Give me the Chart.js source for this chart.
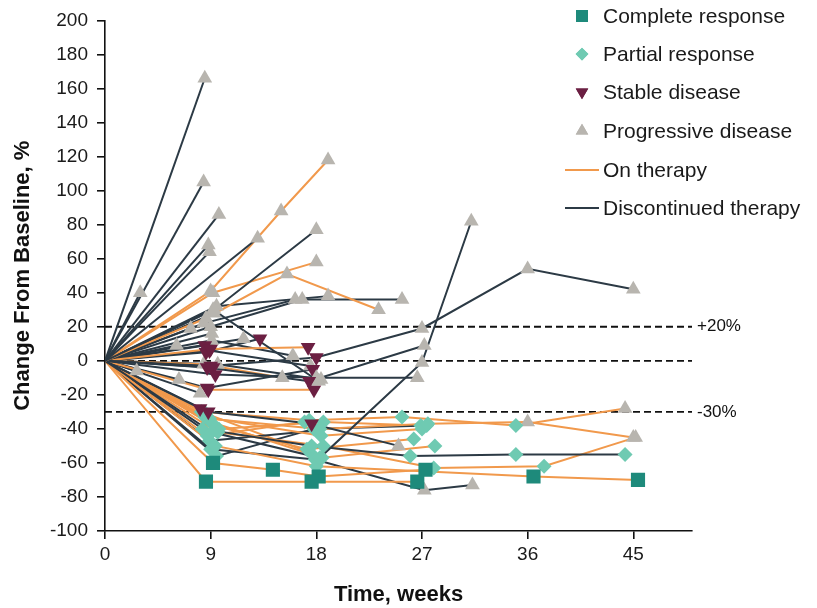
<!DOCTYPE html>
<html lang="en">
<head>
  <meta charset="UTF-8">
  <title>Change From Baseline Over Time</title>
  <script src="https://cdn.jsdelivr.net/npm/chart.js"></script>
  <style>
    body {
      margin: 0;
      background: #fff;
    }

    #wrap {
      width: 817px;
      height: 608px;
    }
  </style>
</head>
<body>

<div id="wrap">
  <canvas id="spider" width="817" height="608"></canvas>
</div>

<script>
  // Per-patient assessments: weeks, % change from baseline, response at each visit
  const patientWeeks = [
    [0, 8.5], [0, 3], [0, 8.4], [0, 9.7], [0, 8.8], [0, 8.9], [0, 13],
    [0, 9.3, 18], [0, 9, 15, 19], [0, 9.2, 18], [0, 8.6, 15.5, 23.3], [0, 9, 16.8, 25.3],
    [0, 8.4, 16.2], [0, 9.5, 19], [0, 9.2, 18.2], [0, 9, 18, 27, 36, 45], [0, 8.7, 17.4, 27.2],
    [0, 9.1, 18.3, 27, 31.2], [0, 9.4, 18, 26.6], [0, 8.8, 17.6, 25], [0, 9, 17.3], [0, 8.8, 17.8],
    [0, 8.6, 13.2], [0, 8.5], [0, 9.2], [0, 8.1], [0, 8.7, 17.7], [0, 7.3], [0, 6.1],
    [0, 2.7], [0, 6.3], [0, 8.1], [0, 9.1, 16], [0, 8.4, 15.1], [0, 11.8], [0, 9.1],
    [0, 9.3], [0, 8.9, 17.5], [0, 9.6, 18.4],
    [0, 8.6, 17.6, 26.6], [0, 9.2, 14.3, 18.2, 27.3], [0, 9.4, 18, 36.5, 45.4], [0, 9, 17.9, 27.2, 31.3],
    [0, 8.3, 17.6, 26, 35, 44.3], [0, 8.2, 17.4, 25.3, 35, 44.3], [0, 8.9, 18.3, 27.5, 36, 45],
    [0, 9.6, 18.6, 28, 37.4, 45.2], [0, 9.3, 17.2, 26.3], [0, 8.5, 18.4, 27], [0, 9, 18.5, 28.1],
    [0, 8.7, 17], [0, 8.9, 18.1], [0, 9.5, 17.8, 27.4], [0, 8.6, 17.5], [0, 9.7, 18.6, 26.9]
  ];

  const patientChange = [
    [0, 166], [0, 40], [0, 105], [0, 86], [0, 68], [0, 64], [0, 72],
    [0, 30, 77], [0, 41, 88, 118], [0, 40, 58], [0, 25, 51, 30], [0, 20, 36, 36],
    [0, 22, 36], [0, 32, 38], [0, 30, -12], [0, -3, 2, 19, 54, 42], [0, -4, -12, 9],
    [0, -42, -57, -1, 82], [0, -8, -10, -10], [0, -30, -37, -50], [0, 7, 8], [0, -17, -17],
    [0, 5, 13], [0, 9], [0, -4], [0, -28], [0, -16, -5], [0, 19], [0, 9],
    [0, -6], [0, -11], [0, -19], [0, 12, 3], [0, -2, -10], [0, 13], [0, 16],
    [0, 28], [0, 6, -3], [0, -2, -11],
    [0, -71, -71, -71], [0, -60, -64, -68, -64], [0, -50, -62, -68, -70], [0, -52, -58, -76, -73],
    [0, -40, -50, -56, -55, -55], [0, -30, -35, -33, -38, -28], [0, -34, -40, -37, -36, -45],
    [0, -42, -50, -63, -62, -45], [0, -38, -52, -46], [0, -33, -44, -40], [0, -36, -57, -50],
    [0, -44, -36], [0, -47, -41], [0, -56, -40, -38], [0, -31, -54], [0, -40, -36, -38]
  ];

  const patientResponse = [
    [null, 'PD'], [null, 'PD'], [null, 'PD'], [null, 'PD'], [null, 'PD'], [null, 'PD'], [null, 'PD'],
    [null, 'PD', 'PD'], [null, 'PD', 'PD', 'PD'], [null, 'PD', 'PD'], [null, 'PD', 'PD', 'PD'], [null, 'PD', 'PD', 'PD'],
    [null, 'PD', 'PD'], [null, 'PD', 'PD'], [null, 'PD', 'PD'], [null, 'SD', 'SD', 'PD', 'PD', 'PD'], [null, 'SD', 'SD', 'PD'],
    [null, 'PR', 'PR', 'PD', 'PD'], [null, 'SD', 'PD', 'PD'], [null, 'SD', 'SD', 'PD'], [null, 'SD', 'SD'], [null, 'SD', 'SD'],
    [null, 'SD', 'SD'], [null, 'SD'], [null, 'SD'], [null, 'SD'], [null, 'SD', 'SD'], [null, 'PD'], [null, 'PD'],
    [null, 'PD'], [null, 'PD'], [null, 'PD'], [null, 'PD', 'PD'], [null, 'PD', 'PD'], [null, 'PD'], [null, 'PD'],
    [null, 'PD'], [null, 'SD', 'PD'], [null, 'PD', 'PD'],
    [null, 'CR', 'CR', 'CR'], [null, 'CR', 'CR', 'CR', 'CR'], [null, 'PR', 'PR', 'CR', 'CR'], [null, 'PR', 'PR', 'PD', 'PD'],
    [null, 'PR', 'PR', 'PR', 'PR', 'PR'], [null, 'PR', 'PR', 'PR', 'PR', 'PD'], [null, 'PR', 'PR', 'PR', 'PD', 'PD'],
    [null, 'PR', 'PR', 'PR', 'PR', 'PD'], [null, 'PR', 'PR', 'PR'], [null, 'PR', 'PR', 'PR'], [null, 'PR', 'PR', 'PR'],
    [null, 'PR', 'PR'], [null, 'PR', 'PR'], [null, 'PR', 'PR', 'PR'], [null, 'PR', 'PR'], [null, 'PR', 'PR', 'PR']
  ];

  // true = still on therapy (orange), false = discontinued (dark)
  const patientOnTherapy = [
    false, false, false, false, false, false, false,
    false, true, true, true, false,
    false, false, false, false, false,
    false, false, false, true, true,
    false, false, false, false, false, false, false,
    false, false, false, false, true, false, false,
    false, false, false,
    true, true, true, false,
    false, true, true,
    true, true, true, true,
    true, false, false, true, true
  ];

  const xTicks = [0, 9, 18, 27, 36, 45];
  const refLines = [20, 0, -30];
  const refLabels = ['+20%', '', '-30%'];
  const legendMarkers = ['CR', 'PR', 'SD', 'PD'];
  const legendMarkerLabels = ['Complete response', 'Partial response', 'Stable disease', 'Progressive disease'];
  const legendLineLabels = ['On therapy', 'Discontinued therapy'];

  const FONT = '"Liberation Sans", Arial, sans-serif';
  const ORANGE = '#f1994c';
  const DARK = '#2c3a45';

  const marker = {
    CR: { style: 'rect', color: '#1e8a7b', radius: 10, rotation: 0 },
    PR: { style: 'rectRot', color: '#6fcab2', radius: 7.5, rotation: 0 },
    SD: { style: 'triangle', color: '#6b1f42', radius: 8.5, rotation: 180 },
    PD: { style: 'triangle', color: '#b8b5af', radius: 8.5, rotation: 0 }
  };

  const datasets = [];
  patientWeeks.forEach((weeks, i) => {
    const pts = weeks.map((w, j) => ({ x: w, y: patientChange[i][j] }));
    const resp = patientResponse[i];

    // connecting line
    datasets.push({
      data: pts,
      showLine: true,
      borderColor: patientOnTherapy[i] ? ORANGE : DARK,
      borderWidth: 2,
      pointRadius: 0,
      order: 1
    });

    // visit markers, drawn above every line
    datasets.push({
      data: pts,
      showLine: false,
      pointStyle: resp.map(r => r ? marker[r].style : 'circle'),
      pointRotation: resp.map(r => r ? marker[r].rotation : 0),
      pointRadius: resp.map(r => r ? marker[r].radius : 0),
      pointBackgroundColor: resp.map(r => r ? marker[r].color : 'transparent'),
      pointBorderWidth: 0,
      order: 0
    });
  });

  // dashed threshold lines with their labels
  const refLinePlugin = {
    id: 'refLines',
    beforeDatasetsDraw(chart) {
      const { ctx, chartArea, scales } = chart;
      ctx.save();
      ctx.strokeStyle = '#111';
      ctx.lineWidth = 1.8;
      ctx.setLineDash([7, 4]);
      ctx.font = '17px ' + FONT;
      ctx.fillStyle = '#111';
      ctx.textBaseline = 'middle';
      refLines.forEach((v, i) => {
        const y = scales.y.getPixelForValue(v);
        ctx.beginPath();
        ctx.moveTo(chartArea.left, y);
        ctx.lineTo(chartArea.right, y);
        ctx.stroke();
        if (refLabels[i]) ctx.fillText(refLabels[i], chartArea.right + 5, y);
      });
      ctx.restore();
    }
  };

  // legend block in the top right corner
  const legendPlugin = {
    id: 'sideLegend',
    afterDraw(chart) {
      const ctx = chart.ctx;
      const rowY = [16, 54, 92, 131, 170, 208];
      const textX = 603;
      const symX = 582;
      ctx.save();
      ctx.font = '21px ' + FONT;
      ctx.textBaseline = 'middle';
      legendMarkers.forEach((key, i) => {
        const m = marker[key];
        ctx.fillStyle = m.color;
        Chart.helpers.drawPoint(ctx, {
          pointStyle: m.style,
          rotation: m.rotation,
          radius: m.radius * 0.85,
          borderWidth: 0
        }, symX, rowY[i]);
        ctx.fill();
        ctx.fillStyle = '#1a1a1a';
        ctx.fillText(legendMarkerLabels[i], textX, rowY[i] + 1);
      });
      [ORANGE, DARK].forEach((c, i) => {
        const y = rowY[4 + i];
        ctx.strokeStyle = c;
        ctx.lineWidth = 2;
        ctx.beginPath();
        ctx.moveTo(565, y);
        ctx.lineTo(599, y);
        ctx.stroke();
        ctx.fillText(legendLineLabels[i], textX, y + 1);
      });
      ctx.restore();
    }
  };

  const ctx = document.getElementById('spider').getContext('2d');
  new Chart(ctx, {
    type: 'scatter',
    data: { datasets: datasets },
    options: {
      responsive: false,
      animation: false,
      layout: {
        padding: { top: 19, right: 125, left: 0, bottom: 0 }
      },
      plugins: {
        legend: { display: false },
        tooltip: { enabled: false }
      },
      scales: {
        x: {
          type: 'linear',
          min: 0,
          max: 50,
          afterBuildTicks: axis => {
            axis.ticks = xTicks.map(v => ({ value: v }));
          },
          afterFit: scale => {
            scale.height = 77;
          },
          border: { color: '#111', width: 1.6 },
          grid: { drawOnChartArea: false, drawTicks: true, tickLength: 8, color: '#111', lineWidth: 1.6 },
          ticks: { color: '#1a1a1a', font: { family: FONT, size: 19 }, padding: 4, maxRotation: 0 },
          title: {
            display: true,
            text: 'Time, weeks',
            color: '#111',
            font: { family: FONT, size: 22, weight: 'bold' },
            padding: { top: 4, bottom: 0 }
          }
        },
        y: {
          min: -100,
          max: 200,
          ticks: { stepSize: 20, color: '#1a1a1a', font: { family: FONT, size: 19 }, padding: 9 },
          afterFit: scale => {
            scale.width = 105;
          },
          border: { color: '#111', width: 1.6 },
          grid: { drawOnChartArea: false, drawTicks: true, tickLength: 8, color: '#111', lineWidth: 1.6 },
          title: {
            display: true,
            text: 'Change From Baseline, %',
            color: '#111',
            font: { family: FONT, size: 22, weight: 'bold' },
            padding: { top: 10, bottom: 4 }
          }
        }
      }
    },
    plugins: [refLinePlugin, legendPlugin]
  });
</script>

</body>
</html>
